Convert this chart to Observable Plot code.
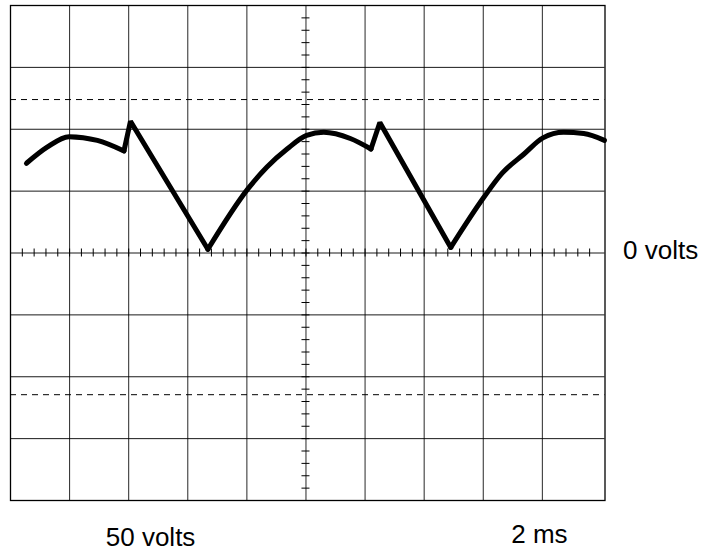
<!DOCTYPE html>
<html>
<head>
<meta charset="utf-8">
<script src="https://cdn.jsdelivr.net/npm/d3@7"></script>
<script src="https://cdn.jsdelivr.net/npm/@observablehq/plot@0.6"></script>
<style>
  html, body { margin: 0; padding: 0; background: #fff; }
  #chart svg { display: block; }
</style>
</head>
<body>
<div id="chart"></div>
<script>
// Graticule: major divisions (time divisions along x, volt divisions along y)
const gridT = [1, 2, 3, 4, 5, 6, 7, 8, 9];
const gridV = [-3, -2, -1, 0, 1, 2, 3];
// Dashed reference levels (divisions)
const dashedV = [2.48, -2.29];
// Minor ticks on the centre lines (5 per division)
const minorT = d3.range(1, 50).map(k => k / 5);
const minorV = d3.range(-19, 20).map(k => k / 5);

// Trace (time in divisions, voltage in divisions)
const waveT = [0.27, 0.62, 0.99, 1.47, 1.92, 2.03, 3.34, 4.02, 4.34, 4.68, 5.01, 5.30, 5.75, 6.10, 6.25, 7.45, 8.01, 8.32, 8.69, 9.01, 9.36, 9.70, 10.05];
const waveV = [1.45, 1.71, 1.88, 1.82, 1.65, 2.13, 0.06, 1.04, 1.39, 1.68, 1.90, 1.95, 1.85, 1.68, 2.11, 0.09, 0.90, 1.29, 1.60, 1.86, 1.95, 1.93, 1.82];
// smooth pieces and straight pieces (index ranges into the trace)
const curvedPieces = [[0, 4], [6, 13], [15, 22]];
const straightPieces = [[4, 6], [13, 15]];

const labels = { zero: "0 volts", volts: "50 volts", time: "2 ms" };

const pts = waveT.map((t, i) => ({ t, v: waveV[i] }));
const piecesOf = (ranges) => ranges.flatMap(([a, b], p) =>
  pts.slice(a, b + 1).map(d => ({ ...d, piece: p })));
const curvedRows = piecesOf(curvedPieces);
const straightRows = piecesOf(straightPieces);

const chart = Plot.plot({
  width: 701,
  height: 552,
  marginLeft: 10,
  marginRight: 96.5,
  marginTop: 5,
  marginBottom: 52,
  x: { domain: [0, 10.06], axis: null },
  y: { domain: [-4, 4], axis: null },
  style: { background: "#fff", fontFamily: "'Liberation Sans', Arial, sans-serif", overflow: "visible" },
  marks: [
    Plot.ruleX(gridT, { x: d => d, stroke: "#000", strokeWidth: 1, strokeOpacity: 0.85 }),
    Plot.ruleY(gridV, { y: d => d, stroke: "#000", strokeWidth: 1, strokeOpacity: 0.9 }),
    Plot.ruleY(dashedV, { y: d => d, stroke: "#000", strokeWidth: 1, strokeDasharray: "6,5" }),
    Plot.ruleX(minorT, { x: d => d, y1: 0, y2: 0, insetTop: -4, insetBottom: -4, stroke: "#000", strokeWidth: 1 }),
    Plot.ruleY(minorV, { y: d => d, x1: 5, x2: 5, insetLeft: -4, insetRight: -4, stroke: "#000", strokeWidth: 1 }),
    Plot.frame({ stroke: "#000", strokeWidth: 1.3 }),
    Plot.line(curvedRows, { x: "t", y: "v", z: "piece", curve: "monotone-x", stroke: "#000", strokeWidth: 5, strokeLinecap: "round", strokeLinejoin: "round" }),
    Plot.line(straightRows, { x: "t", y: "v", z: "piece", curve: "linear", stroke: "#000", strokeWidth: 5, strokeLinecap: "round", strokeLinejoin: "miter" }),
    Plot.text([labels.zero], { x: 10.06, y: 0, text: d => d, textAnchor: "start", lineAnchor: "middle", dx: 18, dy: -2, fontSize: 26, fill: "#000" }),
    Plot.text([labels.volts], { x: 2.37, frameAnchor: "bottom", text: d => d, textAnchor: "middle", lineAnchor: "middle", dy: 37, fontSize: 26, fill: "#000" }),
    Plot.text([labels.time], { x: 8.95, frameAnchor: "bottom", text: d => d, textAnchor: "middle", lineAnchor: "middle", dy: 34, fontSize: 26, fill: "#000" })
  ]
});
document.getElementById("chart").appendChild(chart);
</script>
</body>
</html>
